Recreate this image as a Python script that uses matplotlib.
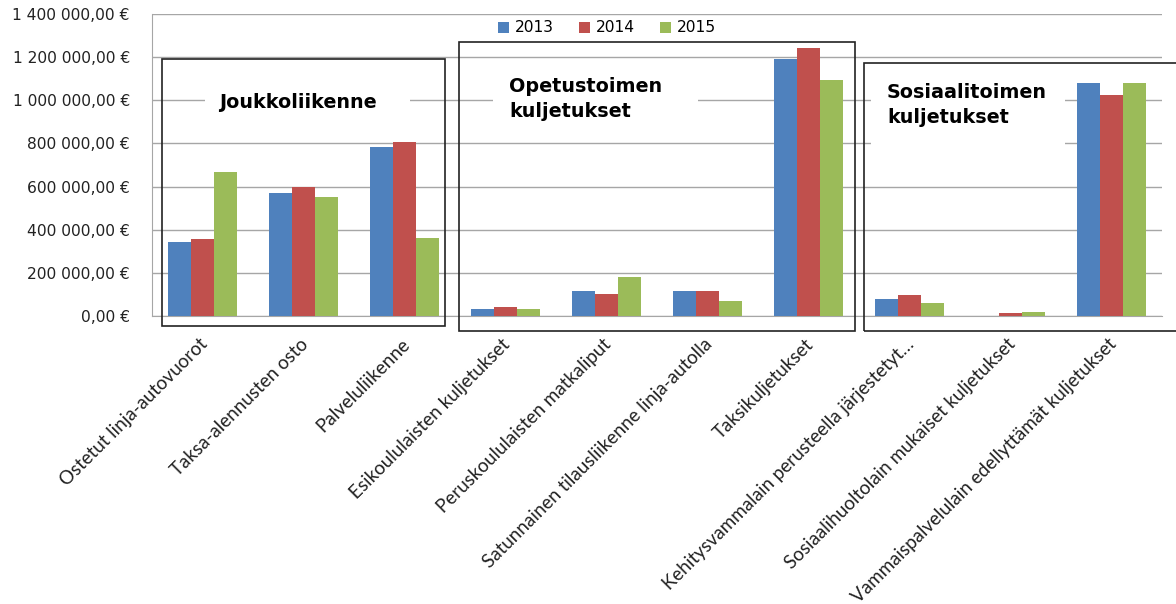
import matplotlib
matplotlib.use('Agg')
import matplotlib.pyplot as plt
import matplotlib.patches as patches
import matplotlib.transforms as mtransforms
import numpy as np

# Categories and values (EUR)
categories = [
    "Ostetut linja-autovuorot",
    "Taksa-alennusten osto",
    "Palveluliikenne",
    "Esikoululaisten kuljetukset",
    "Peruskoululaisten matkaliput",
    "Satunnainen tilausliikenne linja-autolla",
    "Taksikuljetukset",
    "Kehitysvammalain perusteella järjestetyt…",
    "Sosiaalihuoltolain mukaiset kuljetukset",
    "Vammaispalvelulain edellyttämät kuljetukset",
]
v2013 = [343000, 569000, 785000, 34000, 117000, 117000, 1191000, 77000, 0, 1082000]
v2014 = [357000, 596000, 805000, 42000, 103000, 117000, 1241000, 97000, 12500, 1023000]
v2015 = [666000, 553000, 363000, 32500, 181000, 68000, 1094000, 62000, 20000, 1082000]
years = ["2013", "2014", "2015"]
colors = ["#4F81BD", "#C0504D", "#9BBB59"]

W, H = 1176, 604
fig = plt.figure(figsize=(W / 100, H / 100), dpi=100)
ax = fig.add_axes([152 / W, 1 - 316 / H, (1162 - 152) / W, (316 - 14) / H])

x = np.arange(len(categories))
bw = 0.225
for i, (vals, yr, c) in enumerate(zip([v2013, v2014, v2015], years, colors)):
    ax.bar(x + (i - 1) * bw, vals, bw, color=c, label=yr, zorder=3)

ax.set_xlim(-0.5, len(categories) - 0.5)
ax.set_ylim(0, 1400000)
ax.set_yticks(np.arange(0, 1400001, 200000))


def eur(v, pos=None):
    s = f"{v:,.2f}".replace(",", " ").replace(".", ",")
    return s + " €"


ax.yaxis.set_major_formatter(matplotlib.ticker.FuncFormatter(eur))
ax.grid(axis='y', color='#a6a6a6', linewidth=1, zorder=0)
ax.tick_params(axis='y', length=0, pad=16, labelsize=11.2, labelcolor='#222222')
ax.tick_params(axis='x', length=0, pad=14)
for s in ['top', 'right']:
    ax.spines[s].set_visible(False)
ax.spines['left'].set_color('#a6a6a6')
ax.spines['bottom'].set_color('#a6a6a6')

ax.set_xticks(x)
ax.set_xticklabels(categories, rotation=45, ha='right', va='top',
                   rotation_mode='anchor', fontsize=13.5, family=['Lato', 'DejaVu Sans'],
                   color='#222222')
shift = mtransforms.ScaledTranslation(-4 / 100, 0, fig.dpi_scale_trans)
for lbl in ax.get_xticklabels():
    lbl.set_transform(lbl.get_transform() + shift)

ax.legend(ncol=3, frameon=False, loc='center', bbox_to_anchor=(607 / W, 1 - 28 / H),
          bbox_transform=fig.transFigure, fontsize=11.2, handlelength=0.7,
          handleheight=0.7, handletextpad=0.4, columnspacing=1.6)

# group boxes (pixel coords: left, top, right, bottom)
boxes = [(162, 59, 445, 326), (459, 42, 855, 331), (864, 63, 1185, 331)]
for l, t, r, b in boxes:
    fig.patches.append(patches.Rectangle((l / W, 1 - b / H), (r - l) / W, (b - t) / H,
                                         transform=fig.transFigure, fill=False,
                                         edgecolor='#222222', linewidth=1.2))

# white label areas covering gridlines
labels = [
    ("Joukkoliikenne", 205, 410, 85, 125, 219, 102),
    ("Opetustoimen\nkuljetukset", 493, 698, 65, 135, 509, 99),
    ("Sosiaalitoimen\nkuljetukset", 871, 1065, 75, 160, 887, 105),
]
for txt, l, r, t, b, tx, ty in labels:
    fig.patches.append(patches.Rectangle((l / W, 1 - b / H), (r - l) / W, (b - t) / H,
                                         transform=fig.transFigure, facecolor='white',
                                         edgecolor='none', zorder=5))
    fig.text(tx / W, 1 - ty / H, txt, fontsize=13.8, fontweight='bold', ha='left',
             va='center', linespacing=1.4, zorder=6)

fig.savefig('out.png', dpi=100)
